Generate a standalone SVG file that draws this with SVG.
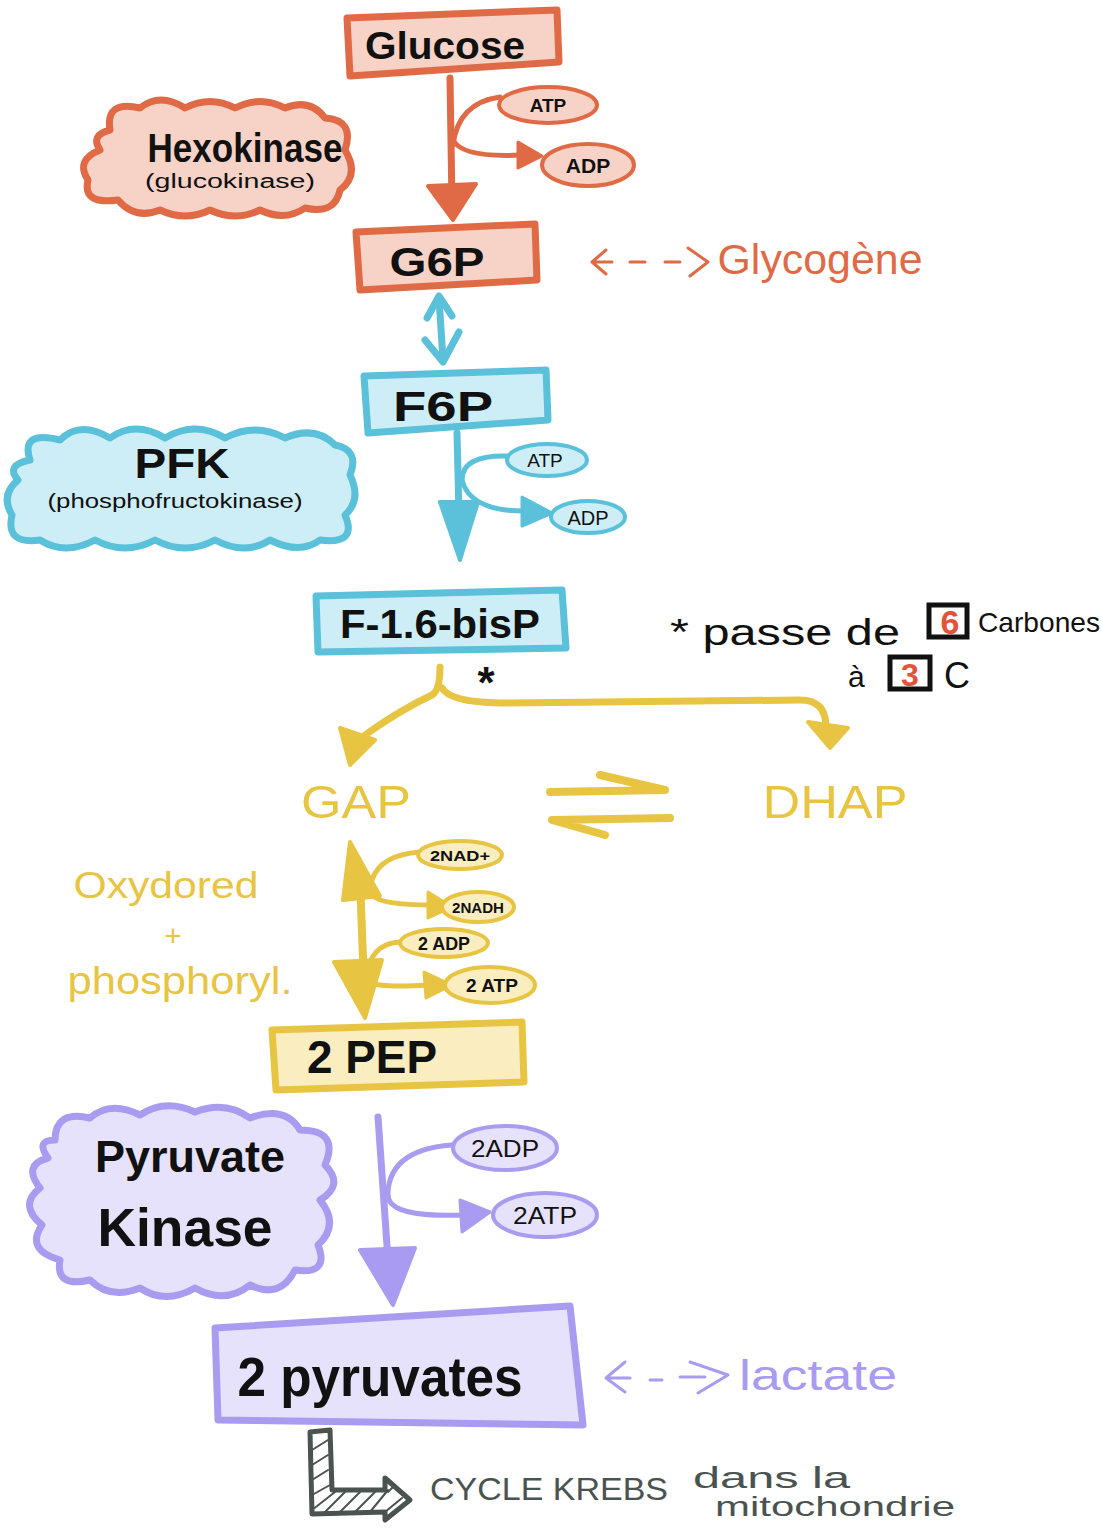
<svg xmlns="http://www.w3.org/2000/svg" width="1102" height="1530" viewBox="0 0 1102 1530">
<style>
.t{font-family:"Liberation Sans",Arial,sans-serif;text-anchor:middle}
.f{font-family:"Liberation Sans",Arial,sans-serif}
.b{font-weight:bold;fill:#111}
.n{fill:#111}
.o{fill:#E06A45}.bl{fill:#5BC0DA}.y{fill:#E8C443}.p{fill:#A99BEF}.g{fill:#4A5350}
.ob{fill:#F6D3C6;stroke:#E06A45;stroke-width:7;stroke-linejoin:round}
.bb{fill:#CDEEF6;stroke:#5BC0DA;stroke-width:7;stroke-linejoin:round}
.yb{fill:#FAEDBF;stroke:#E8C443;stroke-width:7;stroke-linejoin:round}
.pb{fill:#E6E2FB;stroke:#A99BEF;stroke-width:7;stroke-linejoin:round}
.oe{fill:#F6D3C6;stroke:#E06A45;stroke-width:4}
.be{fill:#CDEEF6;stroke:#5BC0DA;stroke-width:4}
.ye{fill:#FAEDBF;stroke:#E8C443;stroke-width:4}
.pe{fill:#E6E2FB;stroke:#A99BEF;stroke-width:4}
.ol{fill:none;stroke:#E06A45;stroke-linecap:round;stroke-linejoin:round}
.bll{fill:none;stroke:#5BC0DA;stroke-linecap:round;stroke-linejoin:round}
.yl{fill:none;stroke:#E8C443;stroke-linecap:round;stroke-linejoin:round}
.pl{fill:none;stroke:#A99BEF;stroke-linecap:round;stroke-linejoin:round}
.gl{fill:none;stroke:#4A5350;stroke-linecap:round;stroke-linejoin:round}
</style>
<rect width="1102" height="1530" fill="#fff"/>

<g id="connectors">
  <!-- Glucose -> G6P -->
  <path class="ol" stroke-width="7" d="M450 78 L452 205"/>
  <polygon points="428,186 476,184 453,220" fill="#E06A45" stroke="#E06A45" stroke-width="4" stroke-linejoin="round"/>
  <path class="ol" stroke-width="5" d="M453 145 Q458 103 500 97"/>
  <path class="ol" stroke-width="5" d="M453 140 Q462 158 522 155"/>
  <polygon points="518,142 542,156 518,168" fill="#E06A45" stroke="#E06A45" stroke-width="3" stroke-linejoin="round"/>
  <!-- G6P <-> F6P -->
  <path class="bll" stroke-width="7" d="M439 298 L443 360"/>
  <path class="bll" stroke-width="7" d="M427 318 L439 296 L452 316"/>
  <path class="bll" stroke-width="7" d="M425 340 L443 362 L459 332"/>
  <!-- F6P -> F-1.6-bisP -->
  <path class="bll" stroke-width="7" d="M457 433 L459 515"/>
  <polygon points="440,502 478,502 460,560" fill="#5BC0DA" stroke="#5BC0DA" stroke-width="4" stroke-linejoin="round"/>
  <path class="bll" stroke-width="5" d="M462 480 Q462 455 507 456"/>
  <path class="bll" stroke-width="5" d="M462 480 Q470 512 528 511"/>
  <polygon points="522,497 552,513 522,526" fill="#5BC0DA" stroke="#5BC0DA" stroke-width="3" stroke-linejoin="round"/>
  <!-- split to GAP / DHAP -->
  <path class="yl" stroke-width="7" d="M440 667 Q440 690 432 695 Q400 710 365 735"/>
  <polygon points="340,728 375,740 350,765" fill="#E8C443" stroke="#E8C443" stroke-width="4" stroke-linejoin="round"/>
  <path class="yl" stroke-width="7" d="M442 688 Q450 702 500 703 L800 700 Q825 700 826 725"/>
  <polygon points="808,722 848,728 830,748" fill="#E8C443" stroke="#E8C443" stroke-width="4" stroke-linejoin="round"/>
  <!-- equilibrium harpoons -->
  <path class="yl" stroke-width="8" d="M550 792 L665 790 L600 775"/>
  <path class="yl" stroke-width="8" d="M670 818 L552 820 L605 835"/>
  <!-- GAP <-> 2 PEP -->
  <path class="yl" stroke-width="8" d="M360 880 L365 1010"/>
  <polygon points="343,900 350,842 380,896" fill="#E8C443" stroke="#E8C443" stroke-width="4" stroke-linejoin="round"/>
  <polygon points="334,962 382,960 365,1018" fill="#E8C443" stroke="#E8C443" stroke-width="4" stroke-linejoin="round"/>
  <path class="yl" stroke-width="5" d="M372 880 Q380 855 420 852"/>
  <path class="yl" stroke-width="5" d="M372 895 Q380 905 432 905"/>
  <polygon points="428,892 452,907 428,918" fill="#E8C443" stroke="#E8C443" stroke-width="3" stroke-linejoin="round"/>
  <path class="yl" stroke-width="5" d="M368 968 Q375 942 402 942"/>
  <path class="yl" stroke-width="5" d="M368 982 Q380 988 428 985"/>
  <polygon points="424,972 452,985 426,998" fill="#E8C443" stroke="#E8C443" stroke-width="3" stroke-linejoin="round"/>
  <!-- 2 PEP -> 2 pyruvates -->
  <path class="pl" stroke-width="7" d="M378 1117 L388 1260"/>
  <polygon points="360,1250 415,1248 393,1305" fill="#A99BEF" stroke="#A99BEF" stroke-width="4" stroke-linejoin="round"/>
  <path class="pl" stroke-width="5" d="M388 1200 Q385 1150 452 1145"/>
  <path class="pl" stroke-width="5" d="M388 1195 Q388 1218 465 1215"/>
  <polygon points="460,1200 490,1212 462,1232" fill="#A99BEF" stroke="#A99BEF" stroke-width="3" stroke-linejoin="round"/>
  <!-- to Krebs -->
  <path d="M310 1432 L330 1430 L332 1490 L385 1490 L385 1478 L410 1500 L385 1520 L385 1512 L312 1514 Z" fill="#fff" stroke="#4A5350" stroke-width="5" stroke-linejoin="round"/>
  <path class="gl" stroke-width="2" d="M312 1450 L328 1440 M312 1465 L328 1455 M312 1480 L328 1470 M312 1495 L330 1485 M312 1510 L335 1492 M325 1512 L345 1492 M340 1512 L360 1492 M355 1512 L375 1492 M370 1512 L388 1490 M385 1512 L402 1498 M388 1492 L395 1485"/>
</g>

<g id="glucose">
  <path class="ob" d="M347 18 L557 10 L559 62 L350 76 Z"/>
  <text class="t b" x="445" y="59" font-size="38" textLength="160" lengthAdjust="spacingAndGlyphs">Glucose</text>
</g>

<g id="hexokinase">
  <path class="ob" d="M110 130 Q105 100 140 108 Q160 92 185 108 Q210 95 235 108 Q260 95 285 108 Q310 98 325 118 Q355 120 345 150 Q360 175 340 190 Q335 215 305 208 Q285 222 260 210 Q235 222 210 210 Q185 222 160 210 Q135 220 118 200 Q82 205 88 180 Q75 160 100 150 Q90 135 110 130 Z" stroke-width="5"/>
  <text class="t b" x="245" y="162" font-size="40" textLength="195" lengthAdjust="spacingAndGlyphs">Hexokinase</text>
  <text class="t n" x="230" y="188" font-size="20" textLength="170" lengthAdjust="spacingAndGlyphs">(glucokinase)</text>
</g>

<g id="atp1">
  <ellipse class="oe" cx="548" cy="105" rx="49" ry="18"/>
  <text class="t b" x="548" y="112" font-size="19">ATP</text>
</g>
<g id="adp1">
  <ellipse class="oe" cx="588" cy="165" rx="46" ry="21"/>
  <text class="t b" x="588" y="173" font-size="21">ADP</text>
</g>

<g id="g6p">
  <path class="ob" d="M356 232 L535 224 L537 280 L360 290 Z"/>
  <text class="t b" x="437" y="276" font-size="40" textLength="95" lengthAdjust="spacingAndGlyphs">G6P</text>
</g>

<g id="glycogene">
  <path class="ol" stroke-width="3" d="M606 250 L592 262 L606 274 M592 262 L612 262 M630 262 L645 262 M665 262 L680 262 M688 248 L708 262 L690 276"/>
  <text class="t o" x="820" y="274" font-size="42" textLength="205" lengthAdjust="spacingAndGlyphs">Glycogène</text>
</g>

<g id="f6p">
  <path class="bb" d="M364 376 L546 370 L548 420 L368 433 Z"/>
  <text class="t b" x="443" y="421" font-size="42" textLength="100" lengthAdjust="spacingAndGlyphs">F6P</text>
</g>

<g id="pfk">
  <path class="bb" d="M30 460 Q20 430 60 440 Q80 420 110 438 Q135 420 165 438 Q195 420 225 438 Q255 422 285 438 Q315 425 335 445 Q360 450 350 475 Q362 500 345 515 Q358 545 320 540 Q300 555 270 540 Q245 556 215 540 Q185 556 155 540 Q125 556 95 540 Q65 556 40 540 Q5 545 12 515 Q0 495 18 480 Q5 465 30 460 Z"/>
  <text class="t b" x="182" y="478" font-size="42" textLength="95" lengthAdjust="spacingAndGlyphs">PFK</text>
  <text class="t n" x="175" y="508" font-size="20" textLength="255" lengthAdjust="spacingAndGlyphs">(phosphofructokinase)</text>
</g>

<g id="atp2">
  <ellipse class="be" cx="547" cy="460" rx="40" ry="16"/>
  <text class="t n" x="545" y="467" font-size="19">ATP</text>
</g>
<g id="adp2">
  <ellipse class="be" cx="588" cy="517" rx="37" ry="16"/>
  <text class="t n" x="588" y="525" font-size="20">ADP</text>
</g>

<g id="f16bisp">
  <path class="bb" d="M316 596 L562 590 L566 648 L318 652 Z"/>
  <text class="t b" x="440" y="638" font-size="40" textLength="200" lengthAdjust="spacingAndGlyphs">F-1.6-bisP</text>
</g>

<g id="note">
  <text class="t b" x="486" y="698" font-size="44">*</text>
  <text class="f n" x="670" y="645" font-size="36" textLength="230" lengthAdjust="spacingAndGlyphs">* passe de</text>
  <rect x="929" y="605" width="38" height="32" fill="none" stroke="#111" stroke-width="5"/>
  <text class="t" x="950" y="634" font-family="Liberation Sans, Arial, sans-serif" font-size="34" font-weight="bold" fill="#E2533A">6</text>
  <text class="f n" x="978" y="632" font-size="28" textLength="122" lengthAdjust="spacingAndGlyphs">Carbones</text>
  <text class="f n" x="848" y="687" font-size="30">à</text>
  <rect x="890" y="657" width="40" height="32" fill="none" stroke="#111" stroke-width="5"/>
  <text class="t" x="910" y="686" font-family="Liberation Sans, Arial, sans-serif" font-size="32" font-weight="bold" fill="#E2533A">3</text>
  <text class="f n" x="944" y="688" font-size="36">C</text>
</g>

<g id="gap">
  <text class="t y" x="356" y="818" font-size="46" textLength="110" lengthAdjust="spacingAndGlyphs">GAP</text>
</g>
<g id="dhap">
  <text class="t y" x="835" y="818" font-size="46" textLength="145" lengthAdjust="spacingAndGlyphs">DHAP</text>
</g>

<g id="oxydored">
  <text class="t y" x="166" y="898" font-size="36" textLength="185" lengthAdjust="spacingAndGlyphs">Oxydored</text>
  <text class="t y" x="173" y="946" font-size="30">+</text>
  <text class="t y" x="180" y="994" font-size="38" textLength="225" lengthAdjust="spacingAndGlyphs">phosphoryl.</text>
</g>

<g id="nad">
  <ellipse class="ye" cx="460" cy="855" rx="42" ry="14"/>
  <text class="t b" x="460" y="861" font-size="15" textLength="60" lengthAdjust="spacingAndGlyphs">2NAD+</text>
</g>
<g id="nadh">
  <ellipse class="ye" cx="478" cy="907" rx="36" ry="15"/>
  <text class="t b" x="478" y="913" font-size="15" textLength="52" lengthAdjust="spacingAndGlyphs">2NADH</text>
</g>
<g id="adp3">
  <ellipse class="ye" cx="444" cy="943" rx="44" ry="14"/>
  <text class="t b" x="444" y="950" font-size="18" textLength="52" lengthAdjust="spacingAndGlyphs">2 ADP</text>
</g>
<g id="atp3">
  <ellipse class="ye" cx="490" cy="985" rx="45" ry="18"/>
  <text class="t b" x="492" y="992" font-size="18" textLength="52" lengthAdjust="spacingAndGlyphs">2 ATP</text>
</g>

<g id="pep">
  <path class="yb" d="M272 1030 L522 1022 L524 1082 L276 1090 Z"/>
  <text class="t b" x="372" y="1073" font-size="46" textLength="130" lengthAdjust="spacingAndGlyphs">2 PEP</text>
</g>

<g id="pyruvatekinase">
  <path class="pb" d="M55 1140 Q55 1110 90 1118 Q110 1100 140 1115 Q165 1098 195 1112 Q225 1100 250 1118 Q285 1105 300 1130 Q340 1130 325 1165 Q345 1185 320 1200 Q340 1225 318 1245 Q330 1275 295 1270 Q280 1300 250 1285 Q225 1305 195 1288 Q165 1305 140 1288 Q110 1300 90 1280 Q55 1288 60 1260 Q25 1250 42 1225 Q18 1205 40 1188 Q22 1165 48 1158 Q35 1140 55 1140 Z"/>
  <text class="t b" x="190" y="1172" font-size="44" textLength="190" lengthAdjust="spacingAndGlyphs">Pyruvate</text>
  <text class="t b" x="185" y="1246" font-size="54" textLength="175" lengthAdjust="spacingAndGlyphs">Kinase</text>
</g>

<g id="adp4">
  <ellipse class="pe" cx="505" cy="1148" rx="52" ry="22"/>
  <text class="t n" x="505" y="1157" font-size="24" textLength="68" lengthAdjust="spacingAndGlyphs">2ADP</text>
</g>
<g id="atp4">
  <ellipse class="pe" cx="545" cy="1215" rx="52" ry="22"/>
  <text class="t n" x="545" y="1224" font-size="24" textLength="64" lengthAdjust="spacingAndGlyphs">2ATP</text>
</g>

<g id="pyruvates">
  <path class="pb" d="M215 1328 L570 1306 L583 1425 L218 1420 Z"/>
  <text class="t b" x="380" y="1396" font-size="56" textLength="285" lengthAdjust="spacingAndGlyphs">2 pyruvates</text>
</g>

<g id="lactate">
  <path class="pl" stroke-width="3" d="M625 1362 L606 1378 L625 1392 M606 1378 L630 1378 M650 1380 L662 1380 M680 1377 L705 1377 M690 1362 L728 1375 L698 1393"/>
  <text class="t p" x="818" y="1390" font-size="42" textLength="158" lengthAdjust="spacingAndGlyphs">lactate</text>
</g>

<g id="krebs">
  <text class="f g" x="430" y="1500" font-size="32" textLength="238" lengthAdjust="spacingAndGlyphs">CYCLE KREBS</text>
  <text class="f g" x="693" y="1488" font-size="30" textLength="157" lengthAdjust="spacingAndGlyphs">dans la</text>
  <text class="f g" x="715" y="1516" font-size="28" textLength="240" lengthAdjust="spacingAndGlyphs">mitochondrie</text>
</g>
</svg>
